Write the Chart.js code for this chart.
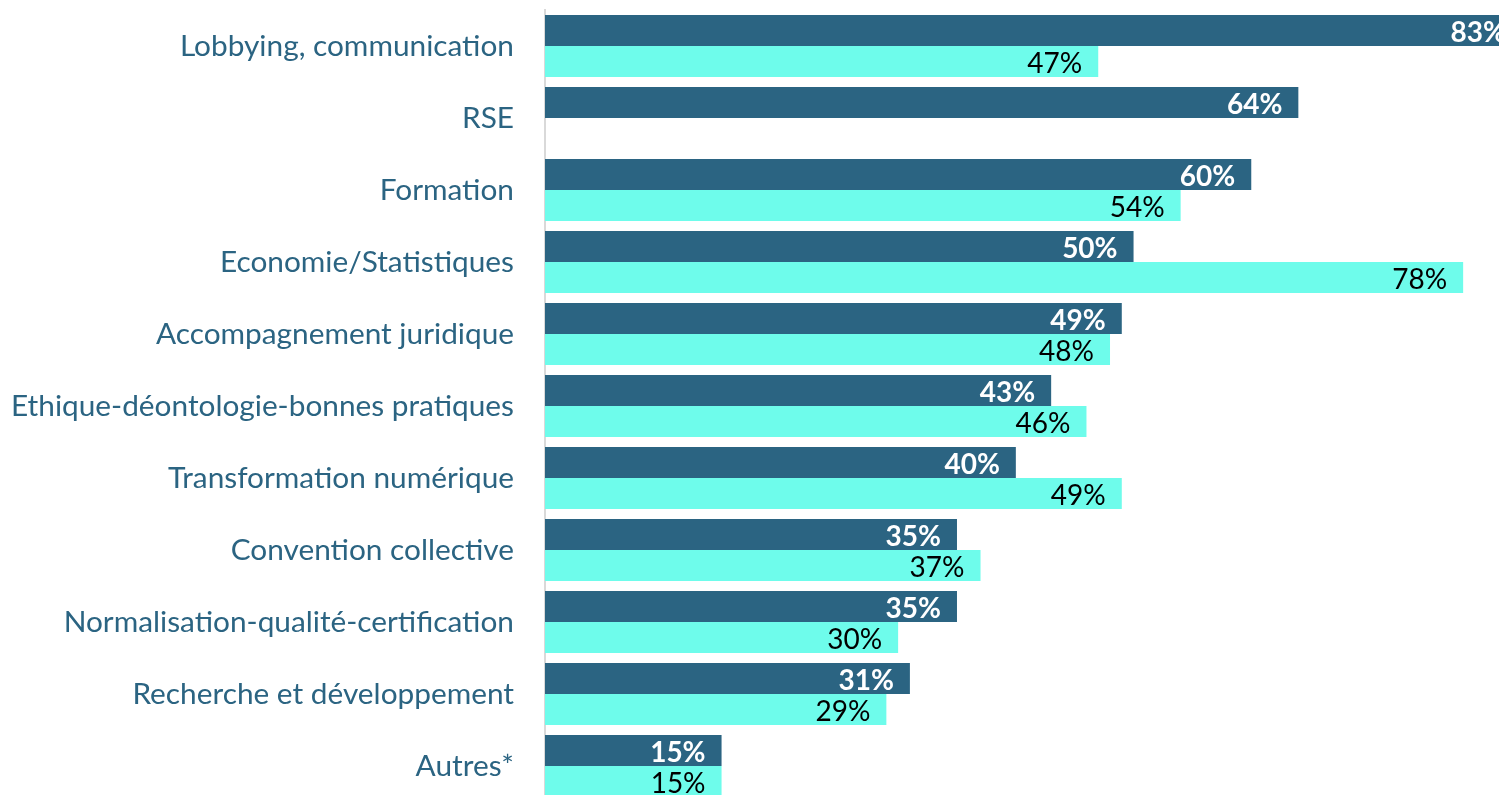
<!DOCTYPE html>
<html><head><meta charset="utf-8">
<script src="https://cdn.jsdelivr.net/npm/chart.js@4"></script>
<style>
html,body{margin:0;padding:0;background:#fff;overflow:hidden;width:1499px;height:795px;}
#c{position:absolute;left:0;top:0;}
</style></head><body>
<canvas id="c" width="1522" height="802" style="width:1522px;height:802px"></canvas>
<script>
const categories = ["Lobbying, communication","RSE","Formation","Economie/Statistiques","Accompagnement juridique","Ethique-déontologie-bonnes pratiques","Transformation numérique","Convention collective","Normalisation-qualité-certification","Recherche et développement","Autres*"];
const seriesA = [83,64,60,50,49,43,40,35,35,31,15];
const seriesB = [47,null,54,78,48,46,49,37,30,29,15];

const DARK = "#2B6482", CYAN = "#6EFCEB";
const FONT = "Lato, 'Open Sans', sans-serif";

const labelPlugin = {
  id: 'barLabels',
  afterDatasetsDraw(chart) {
    const ctx = chart.ctx;
    chart.data.datasets.forEach((ds, di) => {
      const meta = chart.getDatasetMeta(di);
      meta.data.forEach((bar, i) => {
        const v = ds.data[i];
        if (v === null || v === undefined) return;
        ctx.save();
        ctx.font = (di === 0 ? "bold " : "") + "28px " + FONT;
        ctx.fillStyle = di === 0 ? "#ffffff" : "#000000";
        ctx.textAlign = "right";
        ctx.textBaseline = "middle";
        ctx.fillText(v + "%", bar.x - 16, bar.y + 2);
        ctx.restore();
      });
    });
  }
};

new Chart(document.getElementById('c'), {
  type: 'bar',
  data: {
    labels: categories,
    datasets: [
      {data: seriesA, backgroundColor: DARK, categoryPercentage: 0.861, barPercentage: 1},
      {data: seriesB, backgroundColor: CYAN, categoryPercentage: 0.861, barPercentage: 1}
    ]
  },
  options: {
    indexAxis: 'y',
    responsive: false,
    animation: false,
    devicePixelRatio: 1,
    layout: {padding: {top: 10, right: 0, bottom: 0, left: 0}},
    plugins: {legend: {display: false}, tooltip: {enabled: false}},
    scales: {
      x: {display: false, min: 0, max: 83},
      y: {
        afterFit(scale) { scale.width = 545; scale.paddingTop = 0; scale.paddingBottom = 0; },
        grid: {display: false, drawTicks: false},
        border: {display: true, color: "#d9d9d9", width: 2},
        ticks: {color: DARK, padding: 31, font: {family: FONT, size: 29.8}}
      }
    }
  },
  plugins: [labelPlugin]
});
</script>
</body></html>
